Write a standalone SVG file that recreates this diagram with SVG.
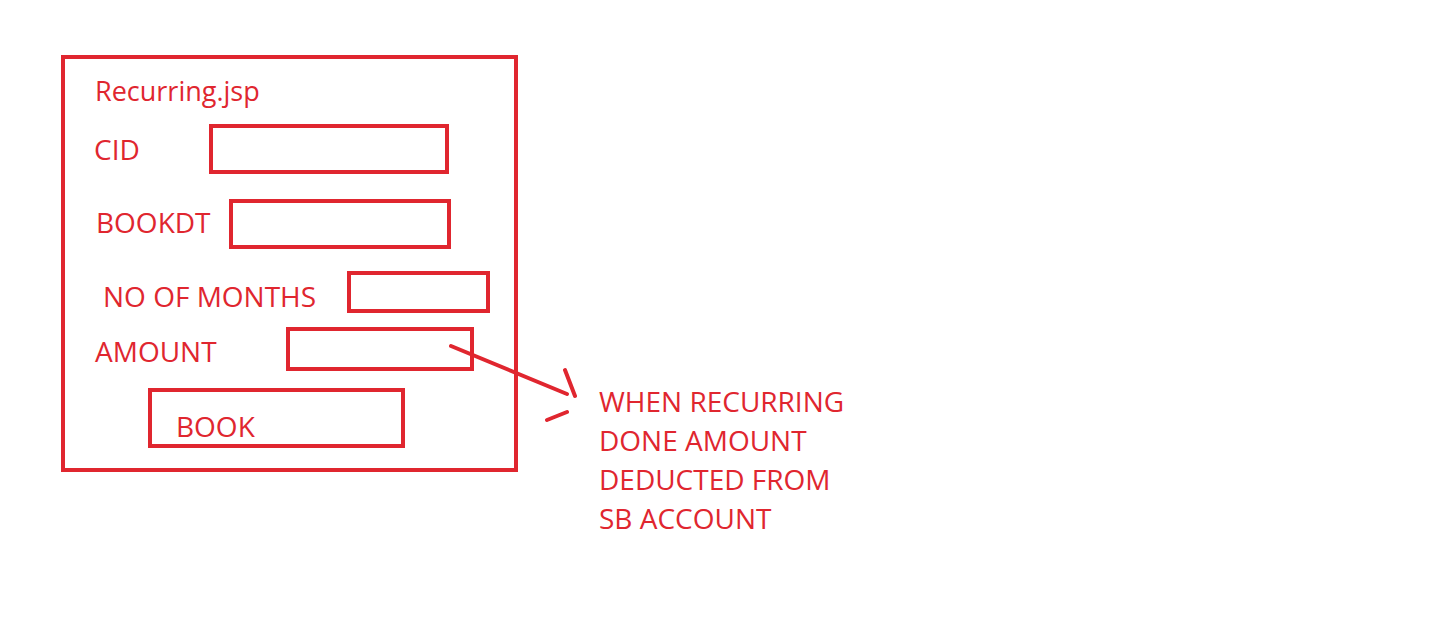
<svg xmlns="http://www.w3.org/2000/svg" width="1443" height="633" viewBox="0 0 1443 633">
<style>
.b{fill:none;stroke:#e0262f;stroke-width:4}
.t{fill:#e0262f;font-family:"Open Sans","Noto Sans",sans-serif;font-size:28px}
.c{fill:none;stroke:#e0262f;stroke-width:4;stroke-linecap:round}
</style>
<rect width="1443" height="633" fill="#fff"/>
<g id="page"><rect class="b" x="63" y="57" width="453" height="413"/><text class="t" x="95" y="101" style="font-size:27px">Recurring.jsp</text></g>
<g id="cid"><text class="t" x="94" y="160">CID</text><rect class="b" x="211" y="126" width="236" height="46"/></g>
<g id="bookdt"><text class="t" x="96" y="233">BOOKDT</text><rect class="b" x="231" y="201" width="218" height="46"/></g>
<g id="months"><text class="t" x="103" y="307">NO OF MONTHS</text><rect class="b" x="349" y="273" width="139" height="38"/></g>
<g id="amount"><text class="t" x="95" y="362">AMOUNT</text><rect class="b" x="288" y="329" width="184" height="40"/></g>
<g id="book"><rect class="b" x="150" y="390" width="253" height="56"/><text class="t" x="176" y="437">BOOK</text></g>
<g id="note"><text class="t" x="599" y="412">WHEN RECURRING</text><text class="t" x="599" y="451">DONE AMOUNT</text><text class="t" x="599" y="490">DEDUCTED FROM</text><text class="t" x="599" y="529">SB ACCOUNT</text></g>
<g id="connectors"><path class="c" d="M451 346 L567 394 M565 370 L575 396 M547 420 L567 412"/></g>
</svg>
